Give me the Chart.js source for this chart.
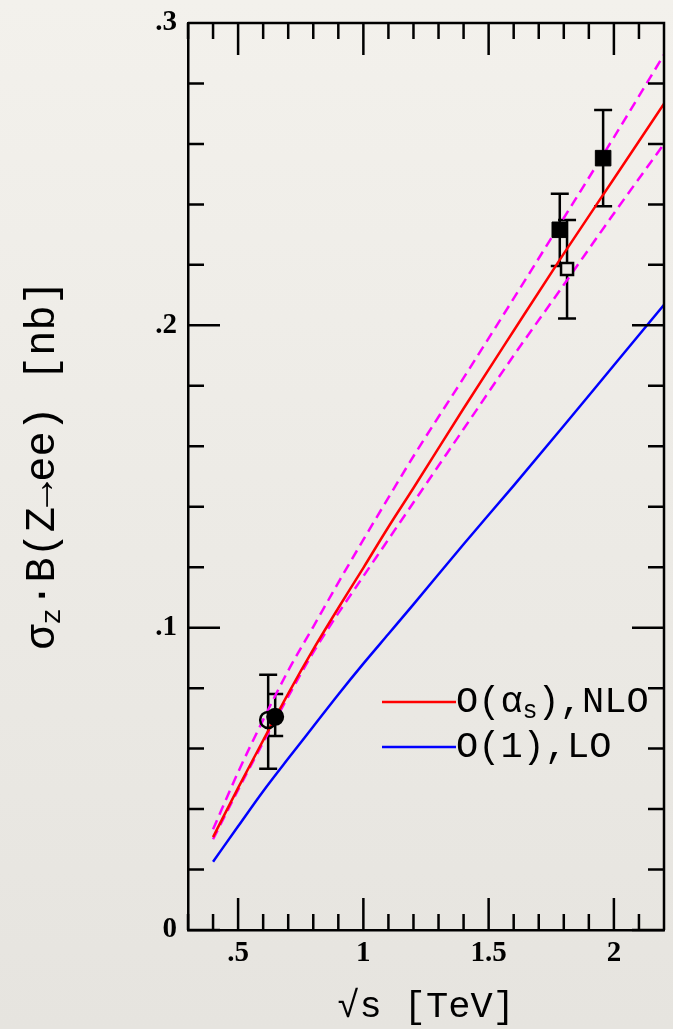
<!DOCTYPE html>
<html>
<head>
<meta charset="utf-8">
<script src="https://cdn.jsdelivr.net/npm/chart.js@4.4.1/dist/chart.umd.min.js"></script>
<style>
  html, body { margin: 0; padding: 0; overflow: hidden; }
  body { width: 673px; height: 1029px; background: linear-gradient(#f3f1ec, #e6e4df); }
  canvas { display: block; }
</style>
</head>
<body>
<canvas id="zChart" width="676" height="1029"></canvas>
<script>
// axis ticks
const xTickVals = [0.5, 1, 1.5, 2];
const xTickLabels = ['.5', '1', '1.5', '2'];
const yTickVals = [0, 0.1, 0.2, 0.3];
const yTickLabels = ['0', '.1', '.2', '.3'];

// theory curves, sqrt(s) in TeV, sigma*B in nb
const sqrtS = [0.4, 0.5, 0.6, 0.7, 0.8, 0.9, 1.0, 1.1, 1.2, 1.4, 1.6, 1.8, 2.0, 2.2];
const nlo = [0.0307, 0.047, 0.0627, 0.0782, 0.0928, 0.1065, 0.1198, 0.1333, 0.1462, 0.1725, 0.1982, 0.2237, 0.2485, 0.2733];
const lo = [0.0226, 0.0343, 0.0459, 0.0567, 0.0673, 0.0779, 0.0881, 0.0979, 0.1077, 0.1276, 0.147, 0.1668, 0.1868, 0.2068];
const nloUpper = [0.0333, 0.0522, 0.0695, 0.0858, 0.1003, 0.1149, 0.1291, 0.143, 0.1567, 0.1826, 0.2089, 0.2355, 0.2622, 0.2895];
const nloLower = [0.030, 0.0463, 0.062, 0.0772, 0.0918, 0.1048, 0.117, 0.1292, 0.1414, 0.1657, 0.190, 0.2134, 0.237, 0.260];

// measurements
const openCircX = [0.62], openCircY = [0.0695], openCircLo = [0.0533], openCircHi = [0.0844];
const fullCircX = [0.648], fullCircY = [0.0705], fullCircLo = [0.0642], fullCircHi = [0.0781];
const fullSqX = [1.784, 1.957], fullSqY = [0.2316, 0.2553], fullSqLo = [0.2196, 0.2394], fullSqHi = [0.2435, 0.2712];
const openSqX = [1.813], openSqY = [0.2186], openSqLo = [0.2023], openSqHi = [0.2348];

const mono = '"Liberation Mono", monospace';
const paper = '#eceae5';

Chart.defaults.font.family = 'Liberation Serif';
Chart.defaults.font.size = 29;
Chart.defaults.font.weight = 'bold';
Chart.defaults.color = '#000';

const pts = (xs, ys) => xs.map((x, i) => ({ x: x, y: ys[i] }));

const errorBars = {
  id: 'errorBars',
  beforeDatasetsDraw(chart) {
    const { ctx, scales: { x, y } } = chart;
    ctx.save();
    ctx.strokeStyle = '#000';
    ctx.lineWidth = 2.5;
    chart.data.datasets.forEach(ds => {
      if (!ds.errLo) return;
      ds.data.forEach((p, i) => {
        const px = x.getPixelForValue(p.x);
        const top = y.getPixelForValue(ds.errHi[i]);
        const bot = y.getPixelForValue(ds.errLo[i]);
        const w = ds.capWidth;
        ctx.beginPath();
        ctx.moveTo(px, top); ctx.lineTo(px, bot);
        ctx.moveTo(px - w, top); ctx.lineTo(px + w, top);
        ctx.moveTo(px - w, bot); ctx.lineTo(px + w, bot);
        ctx.stroke();
      });
    });
    ctx.restore();
  }
};

const frame = {
  id: 'frame',
  afterDraw(chart) {
    const { ctx, chartArea: a, scales: { x, y } } = chart;
    ctx.save();
    ctx.strokeStyle = '#000';
    ctx.lineWidth = 2.5;
    ctx.beginPath();
    ctx.moveTo(a.left, a.top); ctx.lineTo(a.right, a.top); ctx.lineTo(a.right, a.bottom);
    // inward ticks on all four sides
    for (let i = 3; i <= 22; i++) {
      const px = x.getPixelForValue(i / 10);
      const len = i % 5 === 0 ? 32 : 16;
      ctx.moveTo(px, a.bottom); ctx.lineTo(px, a.bottom - len);
      ctx.moveTo(px, a.top); ctx.lineTo(px, a.top + len);
    }
    for (let j = 0; j <= 15; j++) {
      const py = y.getPixelForValue(j * 0.02);
      const len = j % 5 === 0 ? 32 : 16;
      ctx.moveTo(a.left, py); ctx.lineTo(a.left + len, py);
      ctx.moveTo(a.right, py); ctx.lineTo(a.right - len, py);
    }
    ctx.stroke();

    // y axis title with subscript
    ctx.fillStyle = '#000';
    ctx.textBaseline = 'middle';
    ctx.translate(43, 465);
    ctx.rotate(-Math.PI / 2);
    const parts = [
      { t: 'σ', f: '42px ' + mono, dy: 0 },
      { t: 'z', f: '28px ' + mono, dy: 10 },
      { t: '·', f: '42px ' + mono, dy: 0 },
      { t: 'B(Z→ee) [nb]', f: '42px ' + mono, dy: 0 }
    ];
    let total = 0;
    parts.forEach(p => { ctx.font = p.f; p.w = ctx.measureText(p.t).width; total += p.w; });
    let cx = -total / 2;
    parts.forEach(p => { ctx.font = p.f; ctx.fillText(p.t, cx, p.dy); cx += p.w; });
    ctx.restore();

    // legend
    ctx.save();
    ctx.textBaseline = 'middle';
    ctx.fillStyle = '#000';
    const entries = [
      { ds: chart.data.datasets[4], y: 702, parts: [['O(α', 0, 37], ['s', 9, 25], ['),NLO', 0, 37]] },
      { ds: chart.data.datasets[7], y: 747, parts: [['O(1),LO', 0, 37]] }
    ];
    entries.forEach(e => {
      ctx.strokeStyle = e.ds.borderColor;
      ctx.lineWidth = 2.5;
      ctx.beginPath();
      ctx.moveTo(382, e.y); ctx.lineTo(456, e.y);
      ctx.stroke();
      let tx = 456;
      e.parts.forEach(([t, dy, size]) => {
        ctx.font = size + 'px ' + mono;
        ctx.fillText(t, tx, e.y + dy);
        tx += ctx.measureText(t).width;
      });
    });
    ctx.restore();
  }
};

const curve = (label, ys, color, dash) => ({
  type: 'line', label: label, data: pts(sqrtS, ys),
  borderColor: color, borderWidth: 2.5, borderDash: dash || [],
  pointRadius: 0, cubicInterpolationMode: 'monotone', fill: false
});

const tickFont = { family: 'Liberation Serif', size: 29, weight: 'bold' };

new Chart(document.getElementById('zChart'), {
  type: 'scatter',
  data: {
    datasets: [
      { label: 'full circle', data: pts(fullCircX, fullCircY), errLo: fullCircLo, errHi: fullCircHi, capWidth: 8,
        pointStyle: 'circle', pointRadius: 8, backgroundColor: '#000', borderColor: '#000', borderWidth: 2 },
      { label: 'open circle', data: pts(openCircX, openCircY), errLo: openCircLo, errHi: openCircHi, capWidth: 9,
        pointStyle: 'circle', pointRadius: 8, backgroundColor: 'rgba(0,0,0,0)', borderColor: '#000', borderWidth: 2.5 },
      { label: 'full square', data: pts(fullSqX, fullSqY), errLo: fullSqLo, errHi: fullSqHi, capWidth: 9,
        pointStyle: 'rect', pointRadius: 11, backgroundColor: '#000', borderColor: '#000', borderWidth: 1 },
      { label: 'open square', data: pts(openSqX, openSqY), errLo: openSqLo, errHi: openSqHi, capWidth: 9,
        pointStyle: 'rect', pointRadius: 8.5, backgroundColor: paper, borderColor: '#000', borderWidth: 2.5 },
      curve('O(αs),NLO', nlo, '#ff0000'),
      curve('NLO upper', nloUpper, '#ff00ff', [10, 6]),
      curve('NLO lower', nloLower, '#ff00ff', [10, 6]),
      curve('O(1),LO', lo, '#0000ff')
    ]
  },
  options: {
    responsive: false,
    animation: false,
    layout: { padding: { left: 10, top: 23, right: 1, bottom: 0 } },
    plugins: { legend: { display: false }, tooltip: { enabled: false } },
    scales: {
      x: {
        type: 'linear', min: 0.3, max: 2.2,
        afterBuildTicks: s => { s.ticks = xTickVals.map(v => ({ value: v })); },
        afterFit: s => { s.height = 99; s.paddingLeft = 0; s.paddingRight = 0; },
        grid: { display: false, drawTicks: false },
        border: { display: true, color: '#000', width: 2.5 },
        ticks: { color: '#000', font: tickFont, padding: 6, maxRotation: 0, autoSkip: false,
                 callback: (v, i) => xTickLabels[i] },
        title: { display: true, text: '√s [TeV]', color: '#000', font: { family: mono, size: 37, weight: 'normal' },
                 padding: { top: -3, bottom: 0 } }
      },
      y: {
        type: 'linear', min: 0, max: 0.3,
        afterBuildTicks: s => { s.ticks = yTickVals.map(v => ({ value: v })); },
        afterFit: s => { s.width = 178; s.paddingTop = 0; s.paddingBottom = 0; },
        grid: { display: false, drawTicks: false },
        border: { display: true, color: '#000', width: 2.5 },
        ticks: { color: '#000', font: tickFont, padding: 11,
                 callback: (v, i) => yTickLabels[i] }
      }
    }
  },
  plugins: [errorBars, frame]
});
</script>
</body>
</html>
